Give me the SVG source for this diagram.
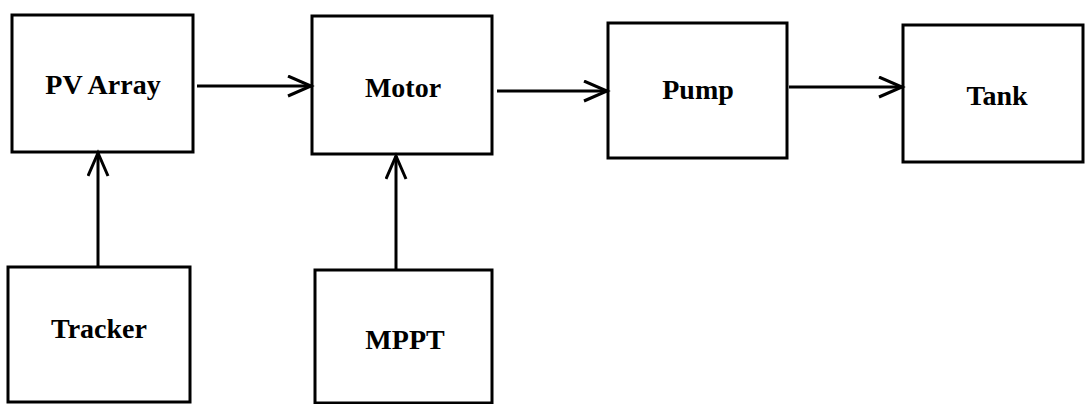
<svg xmlns="http://www.w3.org/2000/svg" width="1089" height="404" viewBox="0 0 1089 404">
<style>
.box{fill:#fff;stroke:#000;stroke-width:3}
.lbl{font-family:"Liberation Serif","Times New Roman",serif;font-weight:bold;font-size:28px;fill:#000;text-anchor:middle}
.con{stroke:#000;stroke-width:3;fill:none}
</style>
<defs>
<marker id="arr" markerUnits="userSpaceOnUse" markerWidth="30" markerHeight="26" refX="24" refY="11" orient="auto">
<path d="M1,1 L24,11 L1,21" fill="none" stroke="#000" stroke-width="3"/>
</marker>
</defs>
<rect width="1089" height="404" fill="#fff"/>
<g id="pv"><rect class="box" x="12" y="15" width="181" height="137"/><text class="lbl" x="103" y="94">PV Array</text></g>
<g id="motor"><rect class="box" x="312" y="16" width="180" height="138"/><text class="lbl" x="403" y="97">Motor</text></g>
<g id="pump"><rect class="box" x="608" y="23" width="179" height="135"/><text class="lbl" x="698" y="99">Pump</text></g>
<g id="tank"><rect class="box" x="903" y="25" width="180" height="137"/><text class="lbl" x="997" y="105">Tank</text></g>
<g id="tracker"><rect class="box" x="8" y="267" width="182" height="135"/><text class="lbl" x="99" y="338">Tracker</text></g>
<g id="mppt"><rect class="box" x="315" y="270" width="177" height="133"/><text class="lbl" x="405" y="349">MPPT</text></g>
<g id="connectors">
<line class="con" x1="197" y1="86" x2="311" y2="86" marker-end="url(#arr)"/>
<line class="con" x1="497" y1="91" x2="607" y2="91" marker-end="url(#arr)"/>
<line class="con" x1="789" y1="87" x2="902" y2="87" marker-end="url(#arr)"/>
<line class="con" x1="98" y1="266" x2="98" y2="153" marker-end="url(#arr)"/>
<line class="con" x1="396" y1="269" x2="396" y2="156" marker-end="url(#arr)"/>
</g>
</svg>
